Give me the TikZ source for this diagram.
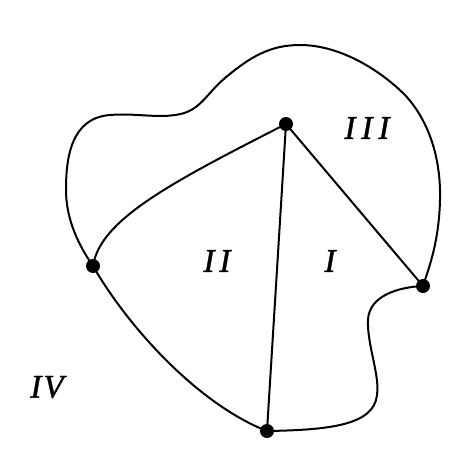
\documentclass[tikz,border=0pt]{standalone}
\usepackage{fontspec}
\setmainfont{Liberation Serif}
\newfontfamily\regionfont[FakeBold=1.2]{Liberation Serif}
\begin{document}
\begin{tikzpicture}[x=1pt,y=-1pt,
  edge/.style={line width=2pt,line join=round,line cap=round},
  dot/.style={circle,fill=black,inner sep=0pt,minimum size=14pt},
  region/.style={font=\regionfont\itshape\fontsize{33}{35}\selectfont,inner sep=0pt}]
\useasboundingbox (0,0) rectangle (474,466);
\node[dot] (t) at (286,124) {};
\node[dot] (l) at (93,266) {};
\node[dot] (r) at (423,286) {};
\node[dot] (b) at (267,431) {};
% outer boundary: left -> top -> right
\draw[edge] (l.center) .. controls (75,240) and (66,215) .. (66,190)
  .. controls (66,160) and (70,118) .. (110,115)
  .. controls (135,113) and (155,118) .. (175,115)
  .. controls (200,112) and (205,95) .. (225,78)
  .. controls (250,57) and (270,45) .. (300,45)
  .. controls (340,45) and (380,70) .. (405,95)
  .. controls (430,122) and (441,160) .. (440,200)
  .. controls (439,240) and (430,265) .. (r.center);
% right -> bottom
\draw[edge] (r.center) .. controls (400,287) and (369,295) .. (368,320)
  .. controls (367,345) and (380,375) .. (377,395)
  .. controls (374,425) and (330,430) .. (b.center);
% bottom -> left
\draw[edge] (b.center) .. controls (200,405) and (130,330) .. (l.center);
% left -> top
\draw[edge] (l.center) .. controls (100,220) and (170,183) .. (t.center);
\draw[edge] (t.center) -- (b.center);
\draw[edge] (t.center) -- (r.center);
\node[region] (r3) at (367,128) {I\kern6pt I\kern6pt I};
\node[region] (r2) at (217,261) {I\kern5pt I};
\node[region] (r1) at (330,261) {I};
\node[region] (r4) at (47,387) {I\kern2pt V};
\end{tikzpicture}
\end{document}
